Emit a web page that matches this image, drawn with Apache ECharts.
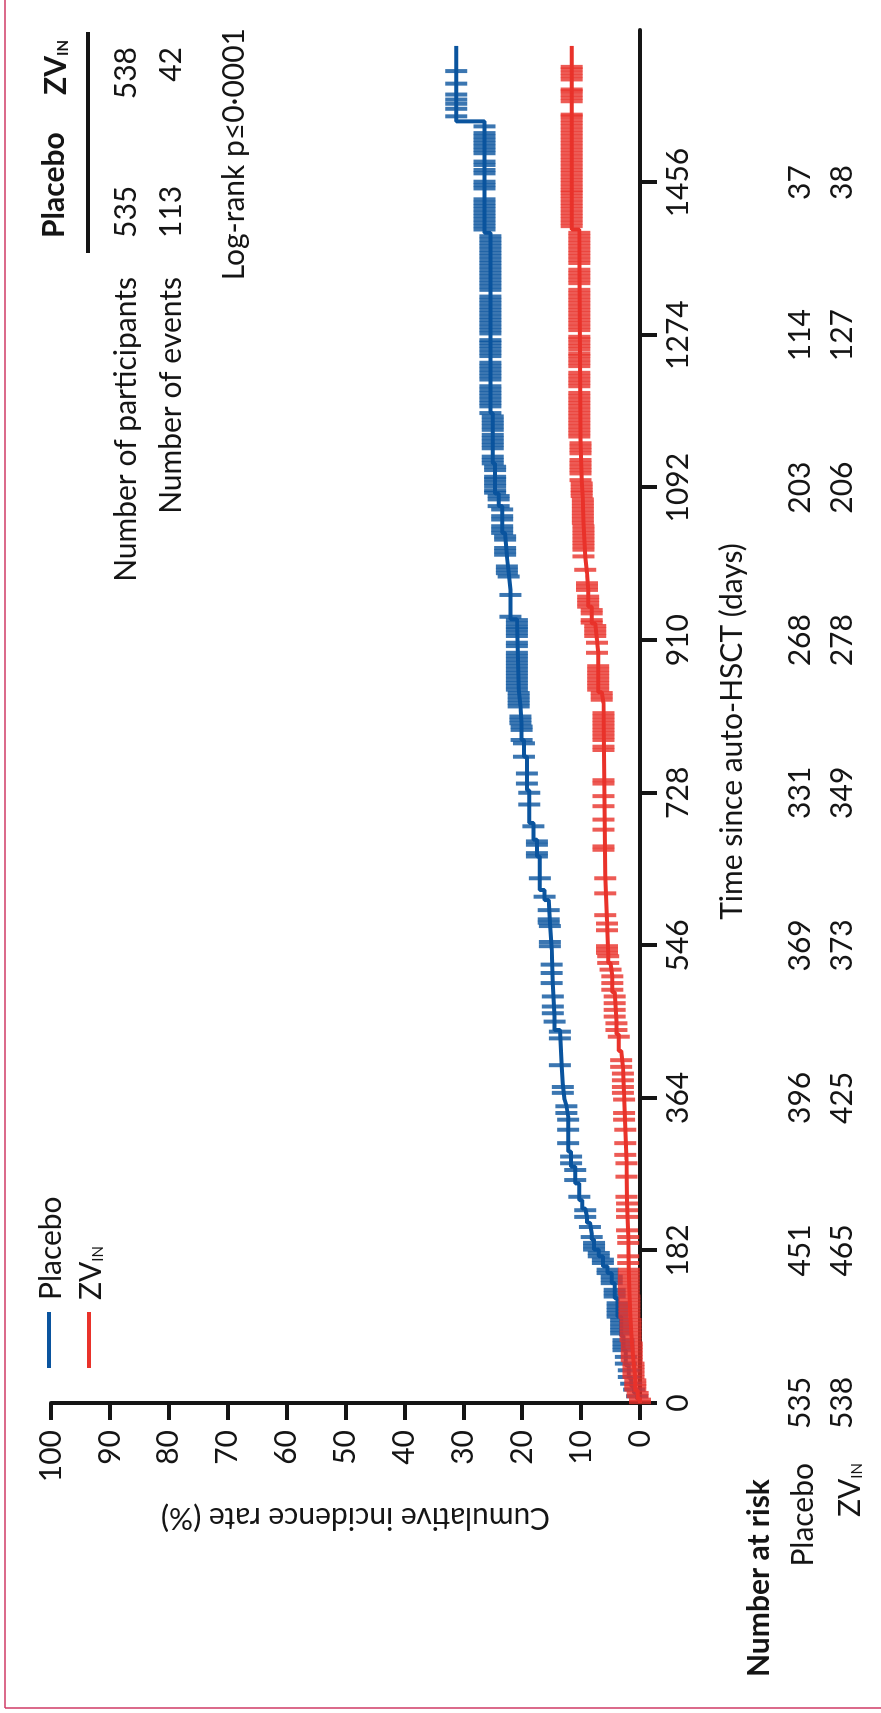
<!DOCTYPE html>
<html>
<head>
<meta charset="utf-8">
<title>Cumulative incidence – Placebo vs ZVIN</title>
<script src="https://cdn.jsdelivr.net/npm/echarts@6.0.0/dist/echarts.min.js"></script>
<style>
  html, body { margin: 0; padding: 0; background: #fff; }
  body { width: 881px; height: 1713px; overflow: hidden; position: relative; }
  /* the figure is printed turned a quarter turn, so draw it flat and turn it */
  #chart { position: absolute; left: 0; top: 0; width: 1713px; height: 881px;
           transform-origin: 0 0; transform: translateY(1713px) rotate(-90deg); }
</style>
</head>
<body>
<div id="chart"></div>
<script>
// ---- data ----
var tickDays = [0, 182, 364, 546, 728, 910, 1092, 1274, 1456];
var riskPlacebo = [535, 451, 396, 369, 331, 268, 203, 114, 37];
var riskZv = [538, 465, 425, 373, 349, 278, 206, 127, 38];

// step points: day where the curve jumps, cumulative % after the jump
var placeboDays = [0, 5, 12, 20, 30, 45, 63, 80, 103, 125, 143, 155, 163, 175, 183, 195, 202, 215, 222, 232, 242, 262, 282, 300, 342, 355, 362, 381, 401, 445, 461, 501, 541, 572, 600, 612, 652, 672, 692, 731, 771, 791, 811, 831, 851, 935, 970, 990, 1010, 1038, 1070, 1085, 1121, 1181, 1396, 1529, 1619];
var placeboCum = [0, 0.5, 1.0, 1.5, 1.9, 2.4, 2.8, 3.2, 3.8, 4.3, 4.8, 5.5, 6.3, 7.0, 7.8, 8.2, 8.5, 9.0, 9.3, 9.8, 10.3, 11.0, 11.7, 12.2, 12.5, 12.8, 13.1, 13.3, 13.6, 14.5, 14.8, 15.0, 15.3, 15.5, 16.2, 17.0, 17.5, 18.1, 18.8, 19.2, 19.7, 20.1, 20.3, 20.6, 20.9, 22.0, 22.3, 22.6, 22.9, 23.4, 24.0, 24.6, 25.0, 25.4, 26.4, 31.2, 31.2];
var zvDays = [0, 5, 15, 30, 50, 75, 100, 130, 160, 200, 240, 290, 330, 370, 400, 420, 440, 455, 490, 510, 525, 535, 575, 630, 835, 848, 895, 910, 930, 950, 970, 990, 1010, 1050, 1080, 1100, 1150, 1400, 1619];
var zvCum = [0, 0.4, 0.8, 1.1, 1.4, 1.6, 1.8, 1.9, 2.0, 2.2, 2.3, 2.5, 2.7, 2.9, 3.2, 3.6, 4.0, 4.3, 4.7, 5.0, 5.4, 5.6, 5.9, 6.2, 6.5, 7.1, 7.3, 7.6, 8.2, 8.8, 9.0, 9.3, 9.6, 9.7, 9.9, 10.1, 10.3, 11.6, 11.6];

// censoring times (tick marks)
var placeboCensor = [8, 16, 23, 31, 39, 47, 55, 63, 67, 71, 75, 83, 87, 91, 95, 99, 103, 107, 111, 115, 119, 127, 131, 135, 143, 147, 151, 155, 159, 167, 171, 175, 179, 183, 187, 191, 198, 210, 222, 230, 246, 266, 278, 286, 294, 310, 326, 338, 346, 354, 370, 377, 403, 435, 443, 455, 465, 473, 485, 501, 513, 523,
  545, 550, 569, 573, 577, 588, 604, 626, 652, 656, 666, 670, 688, 714, 728, 739, 751, 771, 787, 791, 803, 807, 811, 815, 819, 831, 835, 839, 843, 847, 851, 855, 859, 863, 867, 871, 875, 879, 883, 887, 891, 895, 903, 907, 915, 919, 923, 926, 930, 934, 938, 964, 986, 990, 994, 998, 1012, 1016, 1020, 1030, 1034, 1038, 1042, 1046, 1054, 1058, 1066, 1070, 1078, 1082, 1086, 1089,
  1094, 1098, 1102, 1105, 1113, 1117, 1121, 1125, 1129, 1139, 1143, 1147, 1151, 1155, 1161, 1165, 1169, 1173, 1177, 1181, 1189, 1193, 1197, 1201, 1205, 1209, 1213, 1221, 1225, 1229, 1233, 1237, 1241, 1249, 1253, 1257, 1261, 1265, 1268, 1276, 1280, 1284, 1288, 1292, 1296, 1300, 1304, 1308, 1312, 1316, 1320, 1328, 1332, 1336, 1340, 1344, 1348, 1352, 1356, 1360, 1364, 1368, 1372, 1376, 1380, 1384, 1388, 1392, 1400, 1404, 1408, 1412, 1416, 1420, 1424, 1428, 1432, 1436, 1449, 1453, 1457, 1467, 1471, 1477, 1481, 1491, 1495, 1499, 1503, 1507, 1511, 1515, 1523, 1535, 1544, 1550, 1555, 1561, 1574, 1589];
var zvCensor = [1, 4, 8, 12, 16, 20, 23, 27, 31, 35, 39, 43, 47, 51, 55, 59, 63, 67, 71, 75, 79, 83, 87, 91, 95, 99, 103, 107, 111, 115, 119, 123, 127, 131, 135, 139, 143, 147, 151, 155, 159, 167, 175, 191, 198, 206, 222, 230, 238, 246, 270, 286, 296, 310, 326, 338, 346, 362, 370, 377, 385, 393, 401, 409, 437, 445, 453, 461, 469, 477, 485, 493, 501, 509, 517, 525, 533, 537,
  541, 545, 564, 572, 582, 608, 626, 660, 664, 684, 696, 712, 724, 739, 743, 779, 783, 791, 795, 799, 803, 807, 811, 815, 819, 823, 839, 843, 847, 851, 855, 859, 863, 867, 871, 875, 879, 895, 907, 915, 919, 923, 927, 931, 934, 942, 946, 950, 954, 958, 962, 970, 974, 978, 994, 1010, 1018, 1022, 1026, 1030, 1034, 1038, 1042, 1046, 1050, 1054, 1058, 1062, 1066, 1070, 1074, 1078, 1082, 1086, 1089,
  1093, 1097, 1101, 1109, 1113, 1117, 1121, 1125, 1133, 1137, 1141, 1145, 1153, 1157, 1161, 1165, 1169, 1173, 1177, 1181, 1185, 1189, 1193, 1197, 1201, 1205, 1213, 1217, 1221, 1225, 1229, 1237, 1241, 1245, 1249, 1252, 1257, 1261, 1265, 1269, 1272, 1280, 1284, 1288, 1292, 1296, 1300, 1304, 1308, 1312, 1316, 1320, 1324, 1328, 1336, 1340, 1344, 1348, 1352, 1360, 1364, 1368, 1372, 1376, 1380, 1384, 1388, 1392, 1396, 1404, 1408, 1412, 1416, 1420, 1424, 1428, 1432, 1436, 1440, 1444, 1447, 1451, 1455, 1459, 1463, 1467, 1471, 1475, 1479, 1483, 1487, 1491, 1495, 1499, 1503, 1507, 1511, 1515, 1519, 1523, 1527, 1531, 1535, 1537, 1553, 1557, 1561, 1565, 1567, 1579, 1583, 1587, 1591, 1594];

(function() {
  'use strict';

  var BLUE = '#0a549e';
  var RED = '#e9322a';
  var INK = '#151515';
  var FONT = 'Lato';
  var MAXDAY = 1638;

  function stepValue(days, cum, t) {
    var v = 0;
    for (var i = 0; i < days.length; i++) {
      if (days[i] <= t) v = cum[i];
    }
    return v;
  }

  function curve(days, cum) {
    return days.map(function(d, i) { return [d, cum[i]]; });
  }

  function marks(censor, days, cum) {
    return censor.map(function(t) { return [t, stepValue(days, cum, t)]; });
  }

  function riskAxis(values, margin) {
    return {
      type: 'value', position: 'bottom', min: 0, max: MAXDAY,
      axisLine: { show: false }, axisTick: { show: false }, splitLine: { show: false },
      axisLabel: {
        customValues: tickDays, margin: margin, color: INK, fontFamily: FONT, fontSize: 30,
        formatter: function(v) { var i = tickDays.indexOf(v); return i < 0 ? '' : String(values[i]); }
      }
    };
  }

  function txt(x, y, text, align, extra) {
    var style = { text: text, fill: INK, font: '30px Lato', align: align, textAlign: align, verticalAlign: 'middle', textVerticalAlign: 'middle' };
    if (extra) Object.keys(extra).forEach(function(k) { style[k] = extra[k]; });
    return { type: 'text', x: x, y: y, style: style };
  }

  function zvRich(weight) {
    return {
      a: { fontFamily: FONT, fontSize: 30, fontWeight: weight, verticalAlign: 'bottom', lineHeight: 34, color: INK },
      b: { fontFamily: FONT, fontSize: 15, fontWeight: weight, verticalAlign: 'bottom', lineHeight: 17, color: INK }
    };
  }

  var axisLine = { lineStyle: { color: INK, width: 4 } };
  var axisTick = { show: true, inside: false, length: 17, lineStyle: { color: INK, width: 4 } };

  var chart = echarts.init(document.getElementById('chart'), null, { renderer: 'canvas' });
  chart.setOption({
    animation: false,
    backgroundColor: '#fff',
    textStyle: { fontFamily: FONT },
    grid: { left: 310, right: 30, top: 51, bottom: 241, outerBoundsMode: 'none' },
    legend: {
      orient: 'vertical', left: 345, top: 36, padding: 0, itemGap: 10,
      itemWidth: 56, itemHeight: 4, icon: 'rect',
      data: ['Placebo', 'ZVIN'],
      formatter: function(n) { return n === 'ZVIN' ? '{a|ZV}{b|IN}' : '{a|Placebo}'; },
      textStyle: { padding: [0, 0, 0, 7], rich: zvRich('normal') }
    },
    xAxis: [
      {
        type: 'value', position: 'bottom', min: 0, max: MAXDAY,
        axisLine: axisLine,
        axisTick: { show: true, inside: false, length: 17, lineStyle: { color: INK, width: 4 }, customValues: tickDays },
        splitLine: { show: false },
        axisLabel: { customValues: tickDays, margin: 23, color: INK, fontFamily: FONT, fontSize: 30,
          formatter: function(v) { return String(v); } },
        name: 'Time since auto-HSCT (days)', nameLocation: 'middle', nameGap: 77, nameMoveOverlap: false,
        nameTextStyle: { color: INK, fontFamily: FONT, fontSize: 30, padding: [0, 30, 0, 0] }
      },
      riskAxis(riskPlacebo, 145),
      riskAxis(riskZv, 187)
    ],
    yAxis: {
      type: 'value', min: 0, max: 100, interval: 10,
      axisLine: axisLine, axisTick: axisTick, splitLine: { show: false },
      axisLabel: { margin: 27, color: INK, fontFamily: FONT, fontSize: 30 },
      name: 'Cumulative incidence rate (%)', nameLocation: 'middle', nameGap: 100, nameMoveOverlap: false,
      nameTextStyle: { color: INK, fontFamily: FONT, fontSize: 30, padding: [0, 20, 0, 0] }
    },
    series: [
      { name: 'Placebo', type: 'line', step: 'end', data: curve(placeboDays, placeboCum), color: BLUE, showSymbol: false, lineStyle: { width: 4, color: BLUE }, z: 2 },
      { name: 'Placebo censored', type: 'scatter', data: marks(placeboCensor, placeboDays, placeboCum), symbol: 'rect', symbolSize: [4, 22], itemStyle: { color: BLUE }, z: 3 },
      { name: 'ZVIN', type: 'line', step: 'end', data: curve(zvDays, zvCum), color: RED, showSymbol: false, lineStyle: { width: 4, color: RED }, z: 4 },
      { name: 'ZVIN censored', type: 'scatter', data: marks(zvCensor, zvDays, zvCum), symbol: 'rect', symbolSize: [4, 22], itemStyle: { color: RED }, z: 5 }
    ],
    graphic: [
      // page frame (left and bottom edges once turned)
      { type: 'line', shape: { x1: 5, y1: 5, x2: 1713, y2: 5 }, style: { stroke: '#cf3a64', lineWidth: 1.5 } },
      { type: 'line', shape: { x1: 5, y1: 5, x2: 5, y2: 881 }, style: { stroke: '#cf3a64', lineWidth: 1.5 } },
      // summary table
      txt(1475, 54, 'Placebo', 'left', { font: 'bold 30px Lato' }),
      txt(1673, 54, '{a|ZV}{b|IN}', 'right', { rich: zvRich('bold') }),
      { type: 'line', shape: { x1: 1460, y1: 88, x2: 1681, y2: 88 }, style: { stroke: INK, lineWidth: 4 } },
      txt(1436, 126, 'Number of participants', 'right'),
      txt(1475, 126, '535', 'left'),
      txt(1666, 126, '538', 'right'),
      txt(1436, 171, 'Number of events', 'right'),
      txt(1475, 171, '113', 'left'),
      txt(1666, 171, '42', 'right'),
      txt(1685, 234, 'Log-rank p\u22640\u00b70001', 'right'),
      // number at risk labels
      txt(36, 759, 'Number at risk', 'left', { font: 'bold 30px Lato' }),
      txt(250, 803, 'Placebo', 'right'),
      txt(250, 848, '{a|ZV}{b|IN}', 'right', { rich: zvRich('normal') })
    ]
  });
})();
</script>
</body>
</html>
